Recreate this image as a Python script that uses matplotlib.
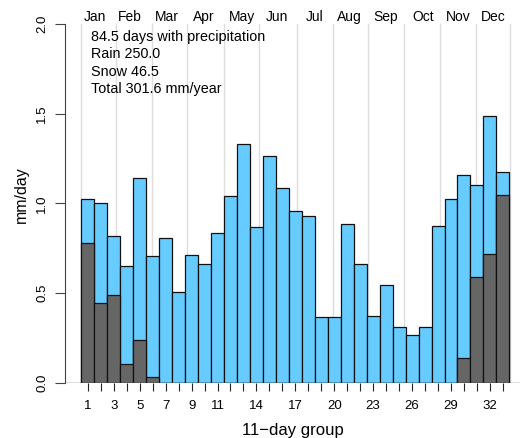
import matplotlib
matplotlib.use("Agg")
import matplotlib.pyplot as plt
import numpy as np

plt.rcParams['font.family'] = ['Liberation Sans', 'DejaVu Sans']

# 11-day groups, mm/day
groups = np.arange(1, 34)
total = [1.023, 1.001, 0.821, 0.650, 1.140, 0.709, 0.808, 0.505, 0.715, 0.663,
         0.834, 1.044, 1.333, 0.871, 1.265, 1.088, 0.958, 0.932, 0.368, 0.368,
         0.886, 0.663, 0.375, 0.546, 0.314, 0.269, 0.314, 0.873, 1.023, 1.161,
         1.101, 1.489, 1.174]
snow = [0.778, 0.447, 0.492, 0.106, 0.238, 0.033, 0, 0, 0, 0,
        0, 0, 0, 0, 0, 0, 0, 0, 0, 0,
        0, 0, 0, 0, 0, 0, 0, 0, 0, 0.139,
        0.589, 0.721, 1.049]
tick_labels = [1, 3, 5, 7, 9, 11, 14, 17, 20, 23, 26, 29, 32]

months = ["Jan", "Feb", "Mar", "Apr", "May", "Jun",
          "Jul", "Aug", "Sep", "Oct", "Nov", "Dec"]
month_lines = [0.5, 3.18, 5.97, 8.67, 11.48, 14.22, 17.1, 19.88, 22.6,
               25.38, 28.16, 30.93, 33.55]
month_mid = [1.53, 4.25, 7.09, 9.91, 12.89, 15.59, 18.48, 21.16, 23.99,
             26.82, 29.54, 32.27]

notes = ["84.5 days with precipitation", "Rain 250.0", "Snow 46.5",
         "Total 301.6 mm/year"]

fig = plt.figure(figsize=(5.2, 4.38), dpi=100)
W, H = 520, 438
ax = fig.add_axes([65 / W, 55 / H, (W - 65) / W, (383 - 6) / H])
ax.set_xlim(-0.757, 34.32)
ax.set_ylim(0, 2.1)

# month separators
for m in month_lines:
    ax.plot([m, m], [0, 2.0], color="#dddddd", lw=1, zorder=0)

ax.bar(groups, total, width=1, color="#66ccff", edgecolor="#111111", lw=0.9, zorder=2)
ax.bar(groups, snow, width=1, color="#666666", edgecolor="#111111", lw=0.9, zorder=3)

for x, name in zip(month_mid, months):
    ax.text(x, 2.04, name, ha="center", va="center", fontsize=10, clip_on=False)

for k, s in enumerate(notes):
    ax.text(1.22, 1.929 - k * 0.098, s, ha="left", va="center", fontsize=10.4)

ax.axhline(0, color="#555555", lw=1, zorder=4)

for sp in ["top", "right", "bottom"]:
    ax.spines[sp].set_visible(False)
ax.spines["left"].set_bounds(0, 2.0)
ax.spines["left"].set_color("#444444")

ax.set_yticks([0, 0.5, 1.0, 1.5, 2.0])
ax.set_yticklabels(["0.0", "0.5", "1.0", "1.5", "2.0"], rotation=90, va="center")
ax.tick_params(axis="y", length=7, color="#444444", labelsize=9.5, pad=5)

ax.set_xticks(groups)
ax.set_xticklabels([str(g) if g in tick_labels else "" for g in groups])
ax.tick_params(axis="x", length=6, color="#222222", labelsize=9.5, pad=6)

ax.set_xlabel("11\u2212day group", fontsize=12, labelpad=8)
ax.set_ylabel("mm/day", fontsize=11.5, labelpad=5)

fig.savefig("out.png", dpi=100)
